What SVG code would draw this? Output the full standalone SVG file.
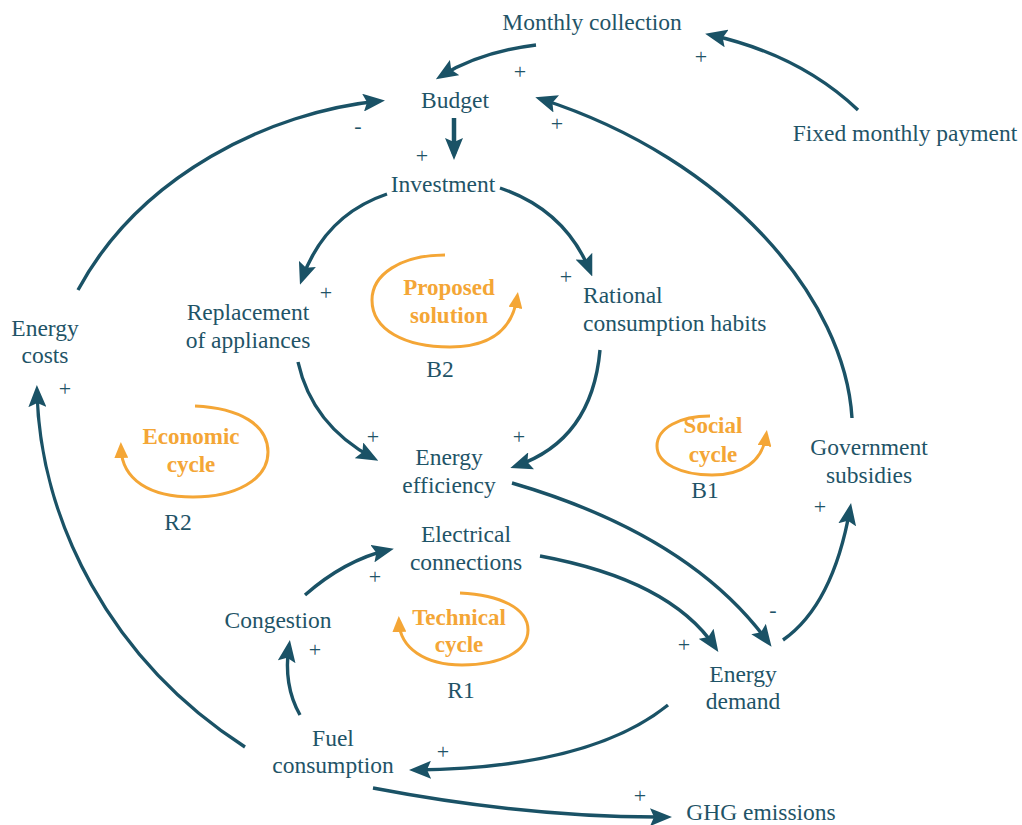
<svg xmlns="http://www.w3.org/2000/svg" width="1022" height="825" viewBox="0 0 1022 825">
<defs>
<style>
text{font-family:'Liberation Serif','Tinos','Times New Roman','Noto Serif','DejaVu Serif',serif}
.t{font-size:23.5px;fill:#1f5467;text-anchor:middle}
.l{text-anchor:start}
.o{font-size:23px;font-weight:bold;fill:#f4a636;text-anchor:middle}
.s{font-size:22px;fill:#1f5467;text-anchor:middle}
.c{fill:none;stroke:#1a5266;stroke-width:3.4;marker-end:url(#ah)}
.lp{fill:none;stroke:#f4a636;stroke-width:3;marker-end:url(#oh)}
</style>
<marker id="ah" viewBox="0 0 22 18" refX="16" refY="9" markerWidth="22" markerHeight="18" markerUnits="userSpaceOnUse" orient="auto">
<path d="M0,0 L22,9 L0,18 L4,9 z" fill="#1a5266"/>
</marker>
<marker id="oh" viewBox="0 0 16 14" refX="10" refY="7" markerWidth="16" markerHeight="14" markerUnits="userSpaceOnUse" orient="auto">
<path d="M0,0 L16,7 L0,14 z" fill="#f4a636"/>
</marker>
</defs>
<rect width="1022" height="825" fill="#ffffff"/>
<g id="connectors">
<path class="c" d="M536,45 Q480,52 441,76"/>
<path class="c" d="M858,110 Q800,55 711,35"/>
<path class="c" d="M852,418 C845,300 730,160 541,99"/>
<path class="c" d="M454,118 L454,154" style="stroke-width:4.5"/>
<path class="c" d="M387,194 Q325,215 302,279"/>
<path class="c" d="M500,188 Q565,210 590,271"/>
<path class="c" d="M78,290 C140,175 270,112 379,101"/>
<path class="c" d="M245,747 C110,660 40,520 37,391"/>
<path class="c" d="M298,362 Q312,425 373,458"/>
<path class="c" d="M600,350 Q592,440 516,466"/>
<path class="c" d="M512,483 Q690,535 768,642"/>
<path class="c" d="M540,556 Q670,580 715,647"/>
<path class="c" d="M783,640 Q833,605 850,509"/>
<path class="c" d="M668,705 Q590,768 415,770"/>
<path class="c" d="M300,715 Q283,685 289,646"/>
<path class="c" d="M305,595 Q345,560 388,550"/>
<path class="c" d="M373,788 Q530,818 666,817"/>
</g>
<g id="loops">
<path class="lp" d="M445,255 C400,255 372,275 372,300 C372,330 405,347 450,347 C490,347 512,330 517,298"/>
<path class="lp" d="M195,406 C240,408 268,425 268,452 C268,480 235,497 193,497 C150,497 122,480 121,448"/>
<path class="lp" d="M710,416 C680,416 657,428 657,446 C657,464 682,475 712,475 C742,475 762,462 766,436"/>
<path class="lp" d="M460,593 C500,595 528,608 528,630 C528,652 500,665 462,665 C425,665 400,648 399,622"/>
</g>
<g id="n-monthly"><text class="t" x="592" y="30">Monthly collection</text></g>
<g id="n-budget"><text class="t" x="455" y="108">Budget</text></g>
<g id="n-investment"><text class="t" x="443" y="192">Investment</text></g>
<g id="n-fixed"><text class="t" x="905" y="141">Fixed monthly payment</text></g>
<g id="n-replacement"><text class="t" x="248" y="320">Replacement</text><text class="t" x="248" y="348">of appliances</text></g>
<g id="n-costs"><text class="t" x="45" y="336">Energy</text><text class="t" x="45" y="363">costs</text></g>
<g id="n-rational"><text class="t l" x="583" y="303">Rational</text><text class="t l" x="583" y="331">consumption habits</text></g>
<g id="n-efficiency"><text class="t" x="449" y="465">Energy</text><text class="t" x="449" y="493">efficiency</text></g>
<g id="n-government"><text class="t" x="869" y="455">Government</text><text class="t" x="869" y="483">subsidies</text></g>
<g id="n-electrical"><text class="t" x="466" y="542">Electrical</text><text class="t" x="466" y="570">connections</text></g>
<g id="n-congestion"><text class="t" x="278" y="628">Congestion</text></g>
<g id="n-demand"><text class="t" x="743" y="682">Energy</text><text class="t" x="743" y="709">demand</text></g>
<g id="n-fuel"><text class="t" x="333" y="746">Fuel</text><text class="t" x="333" y="773">consumption</text></g>
<g id="n-ghg"><text class="t" x="761" y="820">GHG emissions</text></g>
<g id="loop-labels">
<text class="o" x="449" y="295">Proposed</text><text class="o" x="449" y="323">solution</text>
<text class="t" x="440" y="377">B2</text>
<text class="o" x="191" y="444">Economic</text><text class="o" x="191" y="472">cycle</text>
<text class="t" x="178" y="530">R2</text>
<text class="o" x="713" y="433">Social</text><text class="o" x="713" y="462">cycle</text>
<text class="t" x="705" y="498">B1</text>
<text class="o" x="459" y="625">Technical</text><text class="o" x="459" y="652">cycle</text>
<text class="t" x="461" y="698">R1</text>
</g>
<g id="signs">
<text class="s" x="520" y="79">+</text>
<text class="s" x="701" y="64">+</text>
<text class="s" x="557" y="131">+</text>
<text class="s" x="358" y="133">-</text>
<text class="s" x="422" y="163">+</text>
<text class="s" x="326" y="300">+</text>
<text class="s" x="566" y="284">+</text>
<text class="s" x="65" y="396">+</text>
<text class="s" x="373" y="444">+</text>
<text class="s" x="519" y="444">+</text>
<text class="s" x="820" y="514">+</text>
<text class="s" x="773" y="617">-</text>
<text class="s" x="375" y="584">+</text>
<text class="s" x="315" y="657">+</text>
<text class="s" x="684" y="652">+</text>
<text class="s" x="443" y="759">+</text>
<text class="s" x="640" y="803">+</text>
</g>
</svg>
